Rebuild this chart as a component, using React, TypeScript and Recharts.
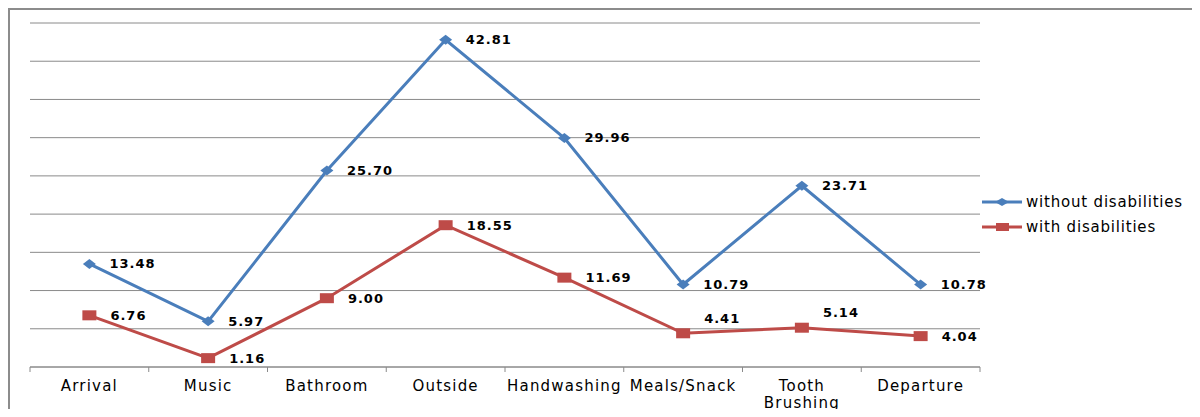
import React from "react"
import { LineChart, Line, XAxis, YAxis, CartesianGrid, Legend, LabelList } from "recharts"

// activities across the day
const categories = ["Arrival", "Music", "Bathroom", "Outside", "Handwashing", "Meals/Snack", "Tooth Brushing", "Departure"]
const withoutDisabilities = [13.48, 5.97, 25.7, 42.81, 29.96, 10.79, 23.71, 10.78]
const withDisabilities = [6.76, 1.16, 9.0, 18.55, 11.69, 4.41, 5.14, 4.04]
const yTicks = [0, 5, 10, 15, 20, 25, 30, 35, 40, 45]

const data = categories.map((name, i) => ({
  name,
  without: withoutDisabilities[i],
  with: withDisabilities[i],
}))

const BLUE = "#4a7ebb"
const RED = "#be4b48"
const GRID = "#8a8a8a"
const HALF_BAND = (980 - 30) / categories.length / 2

// a couple of red labels sit above their point, as in the original
const redLabelLift = [0, 0, 0, 0, 0, 15, 15, 0]

const Diamond = ({ cx, cy }: any) => {
  if (cx == null || cy == null) return null
  return <polygon points={`${cx - 6.5},${cy} ${cx},${cy - 5} ${cx + 6.5},${cy} ${cx},${cy + 5}`} fill={BLUE} />
}

const Square = ({ cx, cy }: any) => {
  if (cx == null || cy == null) return null
  return <rect x={cx - 7} y={cy - 5} width={14} height={10} fill={RED} />
}

const valueLabel = (lift: number[] | null, dx: number) => (props: any) => {
  const { x, y, value, index } = props
  const up = lift ? lift[index] : 0
  return (
    <text
      x={x + dx}
      y={y - up}
      dominantBaseline="central"
      fontFamily="DejaVu Sans"
      fontWeight="bold"
      fontSize={13}
      letterSpacing={1}
      fill="#000"
    >
      {Number(value).toFixed(2)}
    </text>
  )
}

const CategoryTick = (props: any) => {
  const { x, y, payload, index } = props
  const words: string[] = String(payload.value).split(" ")
  const last = index === categories.length - 1
  return (
    <g>
      <line x1={x - HALF_BAND} y1={y} x2={x - HALF_BAND} y2={y + 5} stroke={GRID} />
      {last && <line x1={x + HALF_BAND} y1={y} x2={x + HALF_BAND} y2={y + 5} stroke={GRID} />}
      <text textAnchor="middle" fontFamily="DejaVu Sans" fontSize={15} letterSpacing={1.2} fill="#000">
        {words.map((w, i) => (
          <tspan key={i} x={x} y={y + 24 + i * 17}>{w}</tspan>
        ))}
      </text>
    </g>
  )
}

const LegendContent = () => {
  const items = [
    { label: "without disabilities", color: BLUE, shape: "diamond" },
    { label: "with disabilities", color: RED, shape: "square" },
  ]
  return (
    <svg width={220} height={60}>
      {items.map((it, i) => {
        const cy = 10 + i * 25
        return (
          <g key={it.label}>
            <line x1={2} y1={cy} x2={42} y2={cy} stroke={it.color} strokeWidth={3} />
            {it.shape === "diamond" ? (
              <polygon points={`${15},${cy} ${22},${cy - 4} ${29},${cy} ${22},${cy + 4}`} fill={it.color} />
            ) : (
              <rect x={16} y={cy - 4} width={13} height={8} fill={it.color} />
            )}
            <text x={46} y={cy} dominantBaseline="central" fontFamily="DejaVu Sans" fontSize={15} letterSpacing={0.8} fill="#000">
              {it.label}
            </text>
          </g>
        )
      })}
    </svg>
  )
}

export default function App() {
  return (
    <div style={{ position: "relative", width: 1184, height: 401 }}>
      <div
        style={{
          position: "absolute",
          left: 0,
          top: 0,
          width: "100%",
          height: "100%",
          borderTop: "2px solid #8c8c8c",
          borderLeft: "2px solid #8c8c8c",
          boxSizing: "border-box",
        }}
      />
      <div style={{ position: "absolute", left: -8, top: -8 }}>
        <LineChart width={1200} height={417} data={data} margin={{ top: 23, right: 220, bottom: 20, left: 30 }}>
          <CartesianGrid vertical={false} stroke={GRID} />
          <XAxis
            dataKey="name"
            height={30}
            stroke={GRID}
            tickSize={0}
            tickMargin={0}
            tickLine={false}
            interval={0}
            padding={{ left: HALF_BAND, right: HALF_BAND }}
            tick={<CategoryTick />}
          />
          <YAxis hide domain={[0, 45]} ticks={yTicks} />
          <Legend
            layout="vertical"
            align="center"
            verticalAlign="middle"
            content={<LegendContent />}
            wrapperStyle={{ left: 980, top: 192, width: 220 }}
          />
          <Line
            dataKey="without"
            name="without disabilities"
            stroke={BLUE}
            strokeWidth={3}
            dot={<Diamond />}
            activeDot={false}
            isAnimationActive={false}
          >
            <LabelList dataKey="without" content={valueLabel(null, 20)} />
          </Line>
          <Line
            dataKey="with"
            name="with disabilities"
            stroke={RED}
            strokeWidth={3}
            dot={<Square />}
            activeDot={false}
            isAnimationActive={false}
          >
            <LabelList dataKey="with" content={valueLabel(redLabelLift, 21)} />
          </Line>
        </LineChart>
      </div>
    </div>
  )
}
